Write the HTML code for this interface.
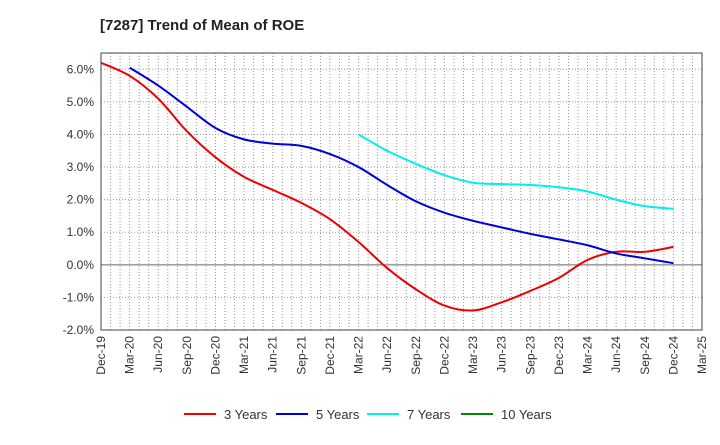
<!DOCTYPE html>
<html><head><meta charset="utf-8"><style>
body{margin:0;background:#fff;font-family:"Liberation Sans",sans-serif;}
</style></head><body>
<svg id="c" width="720" height="440" xmlns="http://www.w3.org/2000/svg">
<text x="100" y="30" font-size="15" font-weight="bold" fill="#222">[7287]  Trend of Mean of ROE</text>
<g id="grid"></g><g id="axes"></g><g id="series"></g><g id="legend"></g>
</svg>
<script>
const xLabels=["Dec-19","Mar-20","Jun-20","Sep-20","Dec-20","Mar-21","Jun-21","Sep-21","Dec-21","Mar-22","Jun-22","Sep-22","Dec-22","Mar-23","Jun-23","Sep-23","Dec-23","Mar-24","Jun-24","Sep-24","Dec-24","Mar-25"];
const yTicks=[-2,-1,0,1,2,3,4,5,6];
const s3=[6.2,5.8,5.1,4.1,3.3,2.7,2.3,1.9,1.4,0.7,-0.1,-0.75,-1.25,-1.4,-1.15,-0.8,-0.4,0.15,0.4,0.4,0.55];
const s5=[6.05,5.5,4.85,4.2,3.85,3.72,3.65,3.4,3.0,2.45,1.95,1.6,1.35,1.15,0.95,0.78,0.6,0.35,0.2,0.05];
const s7=[4.0,3.5,3.1,2.75,2.52,2.48,2.45,2.38,2.25,2.0,1.8,1.72];
const s10=[];
const L=101,R=702,T=53,B=330,yMin=-2,yMax=6.5;
const X=i=>L+i*(R-L)/(xLabels.length-1);
const Y=v=>B-(v-yMin)/(yMax-yMin)*(B-T);
const NS="http://www.w3.org/2000/svg";
function mk(tag,attrs,parent){const e=document.createElementNS(NS,tag);for(const k in attrs)e.setAttribute(k,attrs[k]);parent.appendChild(e);return e;}
const grid=document.getElementById('grid'),axes=document.getElementById('axes'),ser=document.getElementById('series'),leg=document.getElementById('legend');
for(let m=1;m<(xLabels.length-1)*3;m++){const x=L+m*(R-L)/((xLabels.length-1)*3);
 const g=mk('line',{x1:x,x2:x,y1:T,y2:B,stroke:'#999','stroke-dasharray':'1,2','stroke-width':1},grid);
 }
yTicks.forEach(v=>{if(v===0||v===yMin)return;const y=Y(v);
 const g=mk('line',{x1:L,x2:R,y1:y,y2:y,stroke:'#999','stroke-dasharray':'1,2','stroke-width':1},grid);
 });
const z=mk('line',{x1:L,x2:R,y1:Y(0),y2:Y(0),stroke:'#666','stroke-width':1},grid);

const fr=mk('rect',{x:L,y:T,width:R-L,height:B-T,fill:'none',stroke:'#444','stroke-width':1},axes);

yTicks.forEach(v=>{const t=mk('text',{x:L-7,y:Y(v)+4,'text-anchor':'end','font-size':12,fill:'#333'},axes);t.textContent=v.toFixed(1)+'%';
 });
xLabels.forEach((s,i)=>{const x=X(i)+4,y=B+6;const t=mk('text',{x:x,y:y,'text-anchor':'end','font-size':12,fill:'#333',transform:`rotate(-90 ${x} ${y})`},axes);t.textContent=s;
 });
function path(vals,start){const p=vals.map((v,i)=>[X(start+i),Y(v)]);if(!p.length)return'';let d=`M${p[0][0]},${p[0][1]}`;
 for(let i=0;i<p.length-1;i++){const p0=p[i-1]||p[i],p1=p[i],p2=p[i+1],p3=p[i+2]||p2;
  d+=` C${p1[0]+(p2[0]-p0[0])/6},${p1[1]+(p2[1]-p0[1])/6} ${p2[0]-(p3[0]-p1[0])/6},${p2[1]-(p3[1]-p1[1])/6} ${p2[0]},${p2[1]}`;}return d;}
const defs=[[s3,0,'#ee0000','3 Years','series-3-years'],[s5,1,'#0000dd','5 Years','series-5-years'],[s7,9,'#00eeee','7 Years','series-7-years'],[s10,0,'#008800','10 Years','series-10-years']];
defs.forEach(([v,s,c,n,nm])=>{if(v.length){const e=mk('path',{d:path(v,s),fill:'none',stroke:c,'stroke-width':2},ser);}});
const lx=[184,276,367,461];
defs.forEach(([v,s,c,n,nm],i)=>{const g=mk('g',{},leg);
 mk('line',{x1:lx[i],x2:lx[i]+32,y1:414,y2:414,stroke:c,'stroke-width':2},g);
 const t=mk('text',{x:lx[i]+40,y:419,'font-size':13,fill:'#333'},g);t.textContent=n;});
</script>
</body></html>
